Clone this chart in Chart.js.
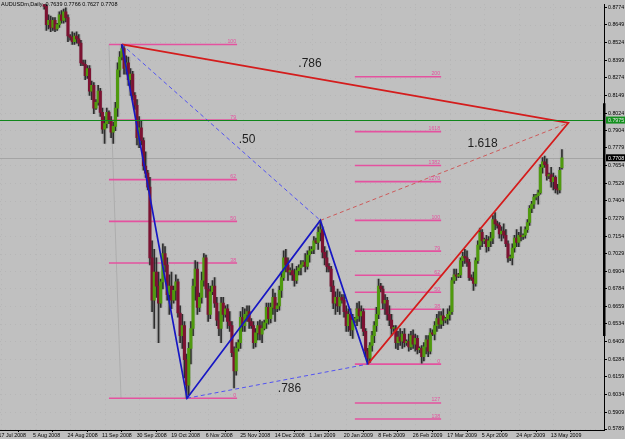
<!DOCTYPE html>
<html><head><meta charset="utf-8">
<script src="https://cdn.jsdelivr.net/npm/chart.js@4/dist/chart.umd.min.js"></script>
<style>html,body{margin:0;padding:0;background:#c0c0c0;}#wrap{width:625px;height:439px;}</style>
</head><body><div id="wrap"><canvas id="c" width="625" height="439"></canvas></div>
<script>
// ---- data (bar index 0 = 17 Jul 2008; first visible bar = 20) ----
const firstBar = 20;
const open = [
.886,.878,.865,.868,.863,.868,.862,.865,.872,.868,
.874,.870,.857,.856,.853,.857,.855,.852,.838,.837,
.829,.834,.818,.822,.806,.810,.818,.803,.791,.795,
.803,.797,.789,.793,.806,.833,.842,.848,.834,.838,
.826,.830,.815,.808,.785,.792,.783,.765,.760,.750,
.700,.670,.690,.680,.668,.683,.703,.695,.674,.680,
.670,.677,.683,.661,.645,.652,.628,.610,.636,.650,
.680,.692,.665,.672,.684,.700,.678,.660,.676,.680,
.668,.656,.650,.668,.660,.664,.655,.652,.633,.620,
.636,.640,.658,.652,.660,.662,.655,.652,.640,.647,
.652,.646,.650,.654,.665,.657,.665,.672,.664,.666,
.677,.686,.700,.695,.690,.691,.688,.684,.691,.693,
.695,.697,.694,.702,.705,.706,.712,.711,.718,.720,
.704,.700,.694,.692,.680,.668,.672,.666,.672,.670,
.662,.652,.660,.649,.656,.657,.664,.659,.662,.648,
.634,.629,.638,.645,.652,.660,.680,.678,.668,.670,
.660,.656,.650,.650,.640,.644,.641,.646,.640,.641,
.637,.645,.639,.643,.635,.636,.630,.637,.642,.634,
.647,.646,.652,.657,.653,.659,.656,.657,.660,.662,
.684,.688,.687,.688,.698,.701,.700,.697,.686,.685,
.682,.698,.709,.718,.712,.713,.708,.712,.714,.727,
.724,.723,.717,.719,.716,.710,.700,.700,.707,.714,
.711,.716,.715,.716,.720,.725,.735,.738,.743,.744,
.746,.764,.768,.766,.758,.759,.754,.757,.749,.748,
.7639];
const high = [
.889,.880,.872,.871,.870,.870,.866,.874,.875,.876,
.877,.872,.858,.860,.859,.860,.858,.854,.840,.840,
.836,.836,.825,.824,.812,.822,.820,.806,.800,.806,
.804,.800,.796,.810,.838,.846,.851,.850,.843,.842,
.834,.832,.817,.812,.800,.797,.785,.775,.762,.757,
.712,.706,.700,.690,.685,.710,.708,.700,.688,.690,
.680,.688,.685,.666,.660,.655,.632,.640,.655,.685,
.698,.697,.675,.690,.703,.702,.682,.680,.684,.686,
.672,.662,.672,.672,.666,.667,.662,.655,.637,.640,
.642,.662,.665,.664,.666,.666,.657,.655,.650,.655,
.656,.655,.656,.668,.668,.668,.678,.675,.668,.680,
.690,.705,.706,.700,.693,.696,.692,.694,.695,.698,
.698,.703,.705,.708,.708,.715,.714,.722,.7265,.722,
.708,.705,.696,.694,.684,.676,.678,.676,.674,.674,
.666,.664,.664,.660,.658,.668,.669,.666,.664,.650,
.636,.640,.648,.655,.665,.685,.682,.680,.674,.672,
.666,.660,.652,.652,.648,.650,.648,.650,.642,.646,
.648,.649,.646,.645,.637,.638,.640,.645,.645,.650,
.649,.655,.660,.662,.662,.664,.658,.664,.666,.686,
.692,.692,.689,.700,.704,.706,.705,.699,.688,.690,
.700,.712,.721,.720,.714,.716,.715,.718,.730,.732,
.726,.725,.722,.724,.720,.712,.702,.710,.716,.720,
.718,.722,.717,.722,.727,.737,.740,.745,.745,.748,
.766,.771,.772,.770,.760,.764,.760,.758,.752,.764,
.7766];
const low = [
.876,.861,.862,.860,.861,.860,.861,.863,.866,.866,
.867,.853,.854,.851,.851,.852,.850,.836,.836,.826,
.827,.815,.812,.802,.805,.808,.800,.788,.781,.792,
.795,.785,.781,.790,.800,.828,.840,.830,.830,.822,
.815,.812,.805,.780,.778,.780,.762,.757,.748,.695,
.662,.650,.672,.640,.665,.678,.690,.670,.660,.664,
.668,.670,.658,.640,.636,.615,.6007,.603,.625,.645,
.670,.660,.662,.668,.680,.672,.655,.657,.674,.665,
.652,.645,.640,.655,.658,.650,.648,.630,.608,.617,
.634,.636,.648,.648,.655,.650,.650,.636,.637,.642,
.642,.640,.649,.650,.653,.654,.660,.655,.662,.663,
.672,.684,.690,.684,.688,.684,.680,.682,.688,.688,
.694,.690,.692,.697,.703,.703,.710,.706,.712,.700,
.695,.690,.690,.676,.664,.660,.662,.660,.668,.658,
.648,.648,.645,.643,.654,.652,.655,.650,.645,.630,
.6248,.626,.634,.640,.648,.657,.676,.664,.660,.656,
.652,.645,.648,.636,.635,.638,.636,.637,.638,.634,
.635,.636,.634,.632,.633,.6255,.627,.632,.630,.632,
.645,.642,.648,.650,.650,.652,.654,.653,.656,.660,
.682,.684,.686,.686,.694,.696,.694,.684,.684,.677,
.680,.696,.706,.708,.710,.704,.705,.708,.710,.720,
.721,.714,.712,.714,.708,.697,.698,.695,.704,.708,
.708,.712,.713,.714,.718,.723,.732,.735,.741,.738,
.745,.760,.764,.755,.756,.750,.748,.746,.745,.746,
.7627];
const close = [
.878,.865,.868,.863,.868,.862,.865,.872,.868,.874,
.870,.857,.856,.853,.857,.855,.852,.838,.837,.829,
.834,.818,.822,.806,.810,.818,.803,.791,.795,.803,
.797,.789,.793,.806,.833,.842,.848,.834,.838,.826,
.830,.815,.808,.785,.792,.783,.765,.760,.750,.700,
.670,.690,.680,.668,.683,.703,.695,.674,.680,.670,
.677,.683,.661,.645,.652,.628,.610,.636,.650,.680,
.692,.665,.672,.684,.700,.678,.660,.676,.680,.668,
.656,.650,.668,.660,.664,.655,.652,.633,.620,.636,
.640,.658,.652,.660,.662,.655,.652,.640,.647,.652,
.646,.650,.654,.665,.657,.665,.672,.664,.666,.677,
.686,.700,.695,.690,.691,.688,.684,.691,.693,.695,
.697,.694,.702,.705,.706,.712,.711,.718,.720,.704,
.700,.694,.692,.680,.668,.672,.666,.672,.670,.662,
.652,.660,.649,.656,.657,.664,.659,.662,.648,.634,
.629,.638,.645,.652,.660,.680,.678,.668,.670,.660,
.656,.650,.650,.640,.644,.641,.646,.640,.641,.637,
.645,.639,.643,.635,.636,.630,.637,.642,.634,.647,
.646,.652,.657,.653,.659,.656,.657,.660,.662,.684,
.688,.687,.688,.698,.701,.700,.697,.686,.685,.682,
.698,.709,.718,.712,.713,.708,.712,.714,.727,.724,
.723,.717,.719,.716,.710,.700,.700,.707,.714,.711,
.716,.715,.716,.720,.725,.735,.738,.743,.744,.746,
.764,.768,.766,.758,.759,.754,.757,.749,.748,.762,
.7708];

const dateTickBars = [0,16,32,48,64,80,96,112,128,144,160,176,192,208,224,240,256];
const dateLabels = ["17 Jul 2008","5 Aug 2008","24 Aug 2008","11 Sep 2008","30 Sep 2008","19 Oct 2008","6 Nov 2008","25 Nov 2008","14 Dec 2008","1 Jan 2009","20 Jan 2009","8 Feb 2009","26 Feb 2009","17 Mar 2009","5 Apr 2009","24 Apr 2009","13 May 2009"];
const priceTicks = [0.8774,0.8649,0.8524,0.8399,0.8274,0.8149,0.8024,0.7904,0.7779,0.7654,0.7529,0.7404,0.7279,0.7154,0.7029,0.6904,0.6784,0.6659,0.6534,0.6409,0.6284,0.6159,0.6034,0.5909,0.5789];
const priceLabels = ["0.8774","0.8649","0.8524","0.8399","0.8274","0.8149","0.8024","0.7904","0.7779","0.7654","0.7529","0.7404","0.7279","0.7154","0.7029","0.6904","0.6784","0.6659","0.6534","0.6409","0.6284","0.6159","0.6034","0.5909","0.5789"];

// harmonic pattern points X, A, B, C, D
const patternNames = ["X","A","B","C","D"];
const patternBars = [56, 86.2, 148, 170, 263];
const patternPrices = [0.8510, 0.6007, 0.7265, 0.6248, 0.7955];
const ratioText = [".786", ".50", "1.618", ".786"];
const ratioBars = [143.2, 114, 223.2, 133.7];
const ratioPrices = [0.8375, 0.7836, 0.7810, 0.6076];

// fibonacci tools
const fibLeftLevels = [0, 0.382, 0.5, 0.618, 0.786, 1];
const fibLeftText = ["0","38","50","62","79","100"];
const fibLeftSpan = [50, 109.4];
const fibRightLevels = [-0.382, -0.27, 0, 0.382, 0.5, 0.618, 0.786, 1, 1.27, 1.382, 1.618, 2];
const fibRightText = ["138","127","0","38","50","62","79","100","1270","1382","1618","200"];
const fibRightSpan = [164, 204];

const greenLevel = 0.7975;
const greenLabel = "0.7975";
const lastPrice = 0.7708;
const lastLabel = "0.7708";
const titleText = "AUDUSDm,Daily  0.7639 0.7766 0.7627 0.7708";
const scaleBarPrices = [0.8094, 0.6447];

// ---- build ----
const UP = '#4f9a0e', DOWN = '#7c1232', WICK = '#2e2e2e', GHOST = 'rgba(120,120,120,0.28)';
const PINK = '#e4529f';
const bars = close.map((_, k) => firstBar + k);
const P = i => ({x: patternBars[i], y: patternPrices[i]});
const X=0,A=1,B=2,C=3,D=4;
const XA = patternPrices[X] - patternPrices[A];
const BC = patternPrices[B] - patternPrices[C];

function lineDS(points, color, width, dash) {
  return {type:'line', data: points, borderColor: color, borderWidth: width, borderDash: dash || [],
    pointRadius: 0, tension: 0, fill: false, order: 0};
}
const fibDS = [];
fibLeftLevels.forEach(l => {
  const y = patternPrices[A] + l * XA;
  fibDS.push(lineDS([{x: fibLeftSpan[0], y}, {x: fibLeftSpan[1], y}], PINK, 1.6));
});
fibRightLevels.forEach(l => {
  const y = patternPrices[C] + l * BC;
  fibDS.push(lineDS([{x: fibRightSpan[0], y}, {x: fibRightSpan[1], y}], PINK, 1.6));
});
fibDS.forEach(d => d.order = 4);

const datasets = [
  {type:'bar', data: bars.map((b,k)=>({x:b, y:[low[k], high[k]]})), backgroundColor: GHOST,
   barThickness: 3.5, grouped: false, order: 3},
  {type:'bar', data: bars.map((b,k)=>({x:b, y:[low[k], high[k]]})), backgroundColor: WICK,
   barThickness: 1, grouped: false, order: 2},
  {type:'bar', data: bars.map((b,k)=>({x:b, y:[open[k], close[k]]})),
   backgroundColor: bars.map((b,k)=> close[k] >= open[k] ? UP : DOWN),
   barThickness: 2.4, minBarLength: 1, grouped: false, order: 1},
  ...fibDS,
  lineDS([P(X), P(A), P(B), P(C)], '#1717c4', 1.7),
  lineDS([P(X), P(B)], '#5252f2', 1, [4,3]),
  lineDS([P(A), P(C)], '#5252f2', 1, [4,3]),
  lineDS([P(X), P(D), P(C)], '#d41c1c', 1.7),
  lineDS([P(B), P(D)], '#cc5a5a', 1, [4,3]),
];

const FONT = '"Liberation Sans", Arial, sans-serif';
const overlay = {
  id: 'overlay',
  beforeDatasetsDraw(chart) {
    const {ctx, chartArea: ca, scales: {x, y}} = chart;
    ctx.save();
    // dotted grid
    ctx.strokeStyle = '#b6b6b6'; ctx.lineWidth = 1; ctx.setLineDash([1,4]);
    priceTicks.forEach(v => { const py = Math.round(y.getPixelForValue(v)) + 0.5;
      ctx.beginPath(); ctx.moveTo(ca.left, py); ctx.lineTo(ca.right, py); ctx.stroke(); });
    dateTickBars.forEach(v => { const px = Math.round(x.getPixelForValue(v)) + 0.5;
      ctx.beginPath(); ctx.moveTo(px, ca.top); ctx.lineTo(px, ca.bottom); ctx.stroke(); });
    ctx.setLineDash([]);
    // current price line
    const ly = Math.round(y.getPixelForValue(lastPrice)) + 0.5;
    ctx.strokeStyle = '#a4a4a4';
    ctx.beginPath(); ctx.moveTo(ca.left, ly); ctx.lineTo(ca.right, ly); ctx.stroke();
    // fibonacci anchor line (left tool)
    ctx.strokeStyle = '#adadad';
    ctx.beginPath();
    ctx.moveTo(x.getPixelForValue(fibLeftSpan[0]), y.getPixelForValue(patternPrices[X]));
    ctx.lineTo(x.getPixelForValue(fibLeftSpan[0] + 5.6), y.getPixelForValue(patternPrices[A]));
    ctx.stroke();
    ctx.restore();
  },
  afterDatasetsDraw(chart) {
    const {ctx, chartArea: ca, scales: {x, y}} = chart;
    ctx.save();
    // green level line
    const gy = Math.round(y.getPixelForValue(greenLevel)) + 0.5;
    ctx.strokeStyle = '#11861b'; ctx.lineWidth = 1;
    ctx.beginPath(); ctx.moveTo(ca.left, gy); ctx.lineTo(ca.right, gy); ctx.stroke();
    // fib labels
    ctx.fillStyle = PINK; ctx.font = '5.2px ' + FONT; ctx.textAlign = 'right'; ctx.textBaseline = 'alphabetic';
    fibLeftLevels.forEach((l, i) => {
      const py = y.getPixelForValue(patternPrices[A] + l * XA);
      ctx.fillText(fibLeftText[i], x.getPixelForValue(fibLeftSpan[1]) - 1, py - 1.5);
    });
    fibRightLevels.forEach((l, i) => {
      const py = y.getPixelForValue(patternPrices[C] + l * BC);
      ctx.fillText(fibRightText[i], x.getPixelForValue(fibRightSpan[1]) - 1, py - 1.5);
    });
    // ratio labels
    ctx.fillStyle = '#1e1e1e'; ctx.font = '12px ' + FONT; ctx.textAlign = 'center'; ctx.textBaseline = 'middle';
    ratioText.forEach((t, i) => ctx.fillText(t, x.getPixelForValue(ratioBars[i]), y.getPixelForValue(ratioPrices[i])));
    // title
    ctx.fillStyle = '#000'; ctx.font = '5.5px ' + FONT; ctx.textAlign = 'left'; ctx.textBaseline = 'top';
    ctx.fillText(titleText, 1, 2);
    // thick scale segment
    ctx.fillStyle = '#000';
    const s0 = y.getPixelForValue(scaleBarPrices[0]), s1 = y.getPixelForValue(scaleBarPrices[1]);
    ctx.fillRect(ca.right - 1, s0, 2.5, s1 - s0);
    // price boxes on the axis
    ctx.font = '5.3px ' + FONT; ctx.textBaseline = 'middle';
    const box = (v, label, bg, fg) => {
      const py = y.getPixelForValue(v);
      ctx.fillStyle = bg; ctx.fillRect(ca.right + 2, py - 3.5, 19, 7);
      ctx.fillStyle = fg; ctx.fillText(label, ca.right + 4, py + 0.5);
    };
    box(greenLevel, greenLabel, '#13901e', '#e8e8e8');
    box(lastPrice, lastLabel, '#000000', '#ffffff');
    ctx.restore();
  }
};

new Chart(document.getElementById('c'), {
  type: 'bar',
  data: {datasets},
  plugins: [overlay],
  options: {
    responsive: false, animation: false, devicePixelRatio: 1,
    layout: {padding: 0, autoPadding: false},
    plugins: {legend: {display: false}, tooltip: {enabled: false}},
    scales: {
      x: {type: 'linear', min: -0.5, max: 279.5, position: 'bottom', offset: false,
        afterBuildTicks: s => { s.ticks = dateTickBars.map(v => ({value: v})); },
        afterFit: s => { s.height = 9; },
        ticks: {autoSkip: false, maxRotation: 0, minRotation: 0, align: 'start', labelOffset: -2.5, padding: 0,
          color: '#000', font: {size: 5.3, family: FONT}, callback: (v, i) => dateLabels[i]},
        grid: {drawOnChartArea: false, drawTicks: true, tickLength: 2, color: '#000'},
        border: {display: true, color: '#000', width: 1}},
      y: {type: 'linear', position: 'right', min: 0.5782, max: 0.8795,
        afterBuildTicks: s => { s.ticks = priceTicks.map(v => ({value: v})); },
        afterFit: s => { s.width = 21; },
        ticks: {autoSkip: false, padding: 1, color: '#000', font: {size: 5.3, family: FONT},
          callback: (v, i) => priceLabels[i]},
        grid: {drawOnChartArea: false, drawTicks: true, tickLength: 3, color: '#000'},
        border: {display: true, color: '#000', width: 1}}
    }
  }
});
</script></body></html>
